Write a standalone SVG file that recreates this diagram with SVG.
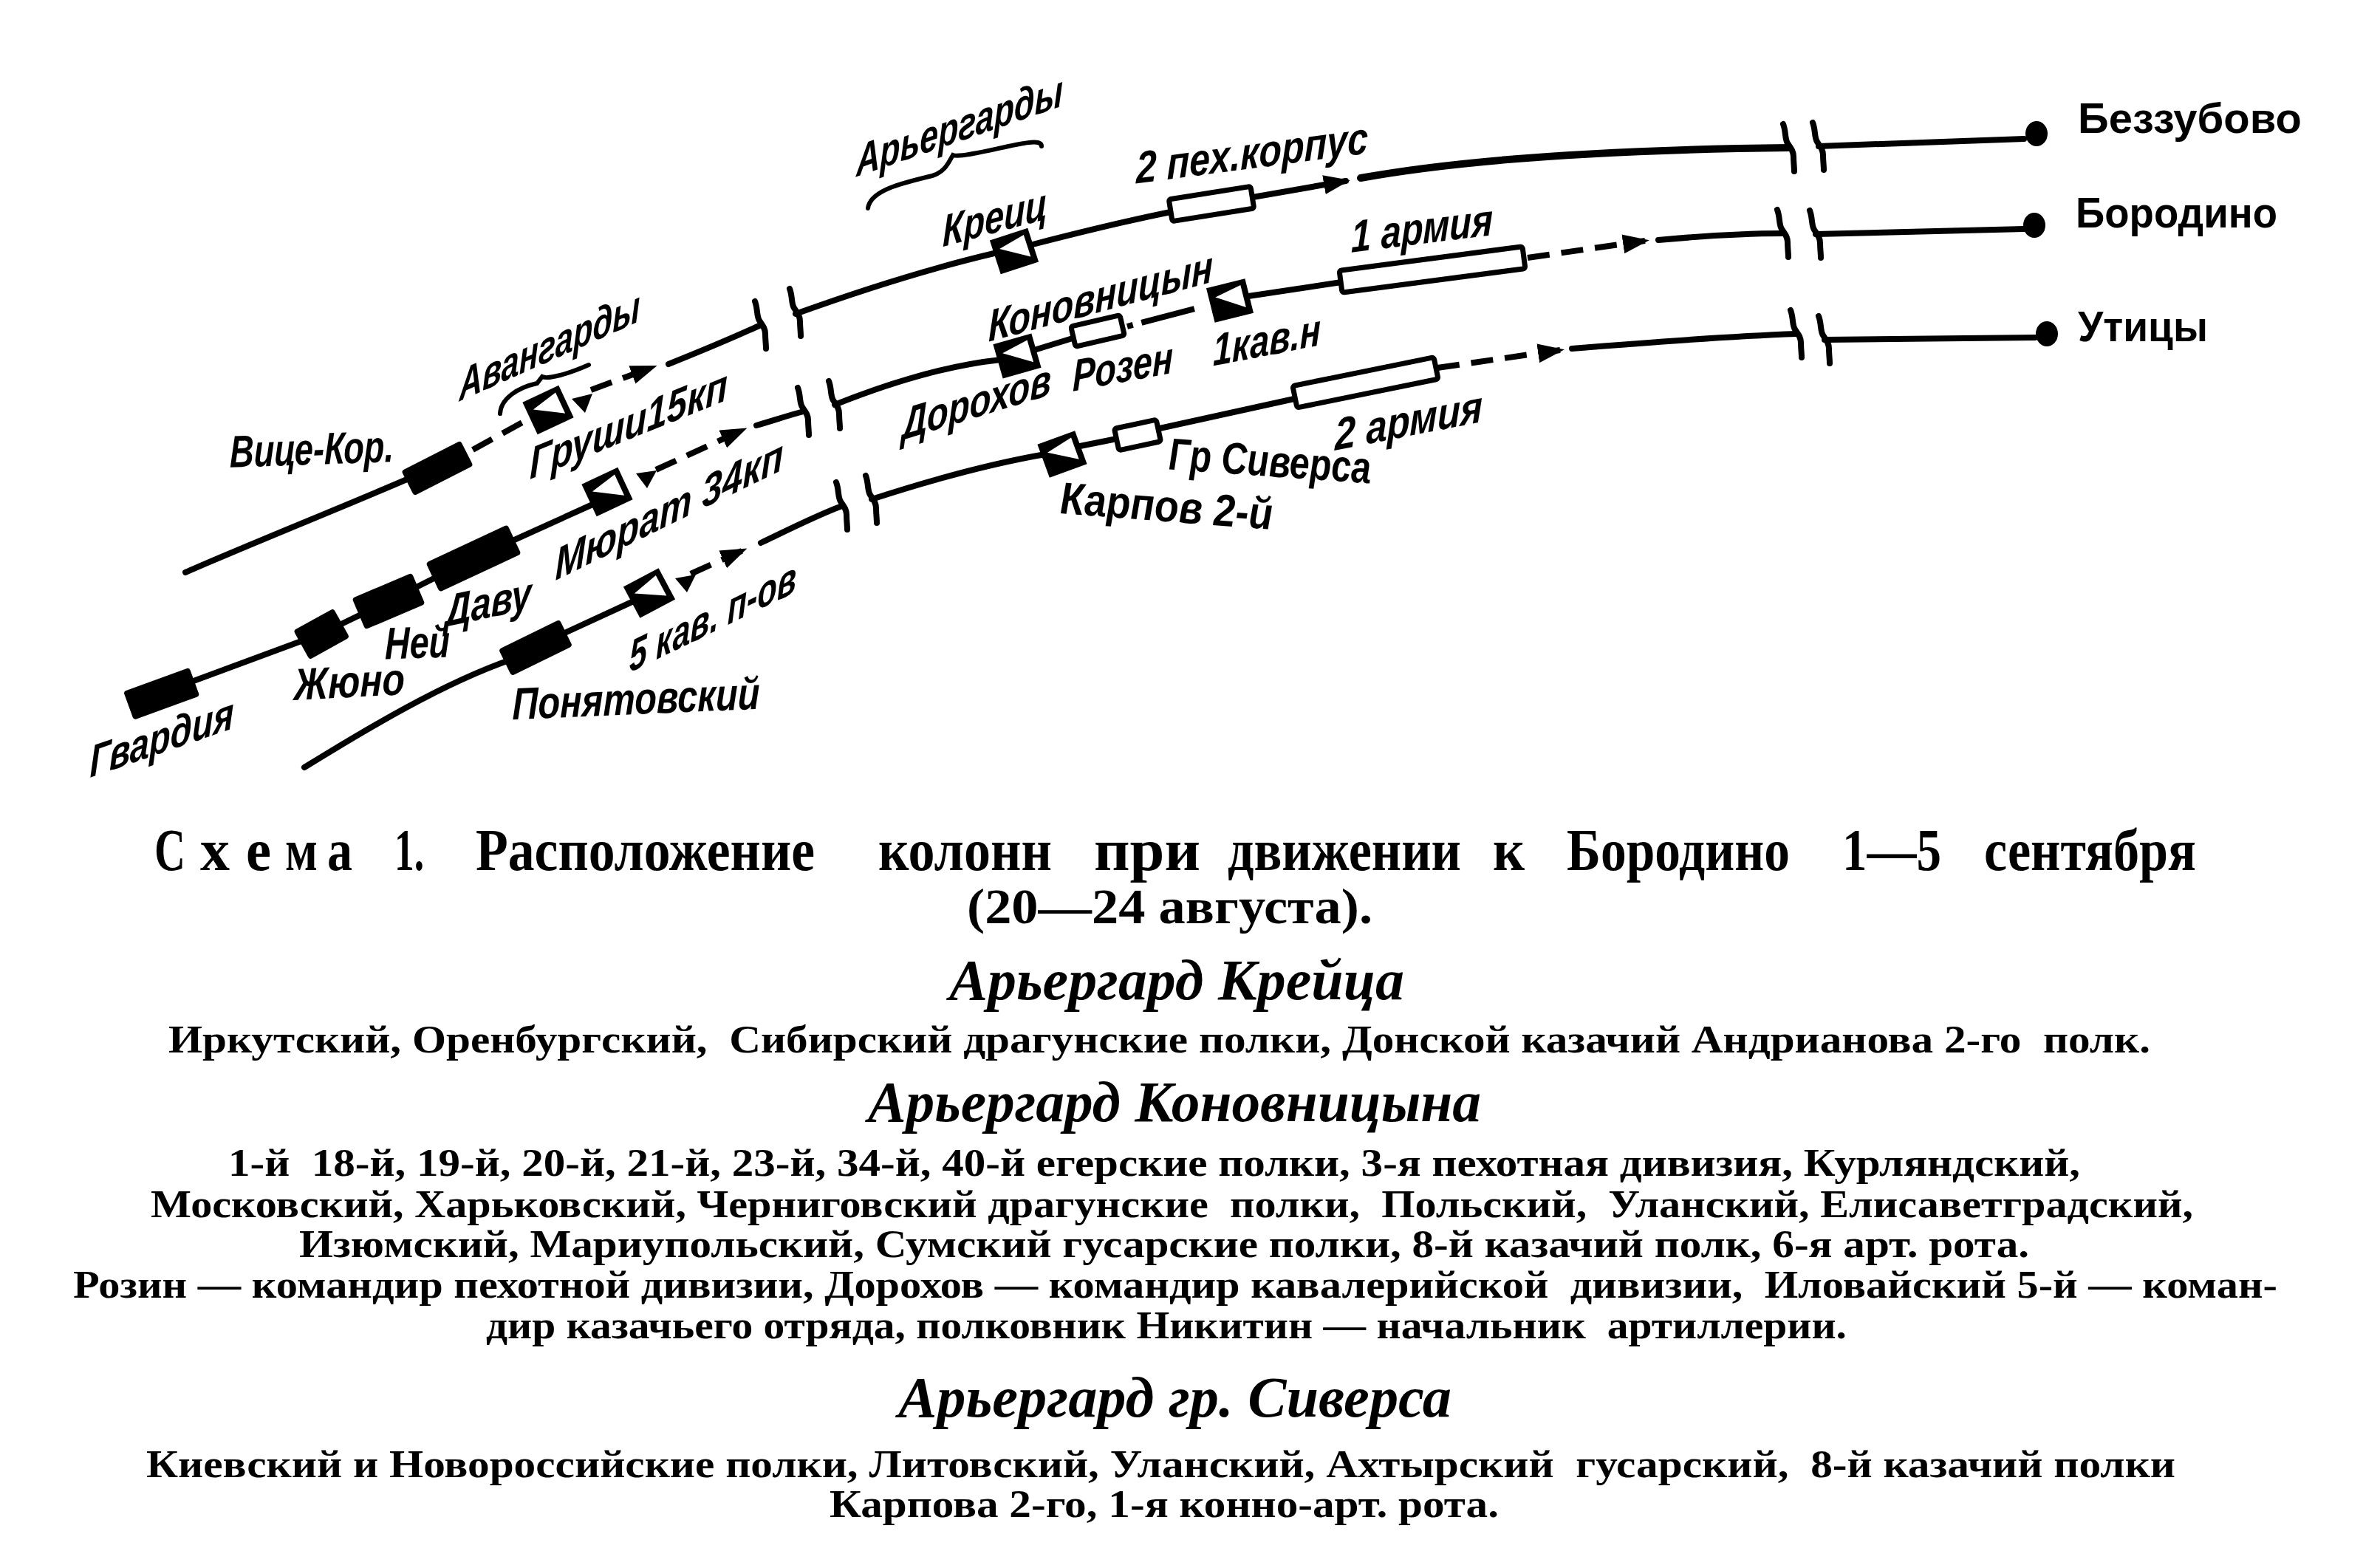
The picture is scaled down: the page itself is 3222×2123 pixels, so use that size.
<svg xmlns="http://www.w3.org/2000/svg" xmlns:xlink="http://www.w3.org/1999/xlink" width="3222" height="2123" viewBox="0 0 3222 2123">
<style>
.ln{fill:none;stroke:#000;stroke-width:8;stroke-linecap:round;stroke-linejoin:round}
.ds{fill:none;stroke:#000;stroke-width:8;stroke-dasharray:30 16}
.br{fill:none;stroke:#000;stroke-width:8;stroke-linecap:round}
.brc{fill:none;stroke:#000;stroke-width:6;stroke-linecap:round}
.blk{fill:#000}
.box{fill:#fff;stroke:#000;stroke-width:7}
.lb{font-family:"Liberation Sans",Arial,sans-serif;font-weight:bold;font-style:italic;font-size:61px;text-anchor:middle;dominant-baseline:central;fill:#000}
.ct{font-family:"Liberation Sans",Arial,sans-serif;font-weight:bold;font-size:58px;fill:#000}
.cap{font-family:"Liberation Serif","Times New Roman",serif;font-weight:bold;font-size:80px;fill:#000}
.cap2{font-family:"Liberation Serif","Times New Roman",serif;font-weight:bold;font-size:68px;fill:#000}
.hd{font-family:"Liberation Serif","Times New Roman",serif;font-weight:bold;font-style:italic;font-size:78px;fill:#000}
.bd{font-family:"Liberation Serif","Times New Roman",serif;font-weight:bold;font-size:52px;fill:#000;white-space:pre}
</style>
<defs>
<marker id="arr" viewBox="0 0 36 26" refX="30" refY="13" markerWidth="36" markerHeight="26" markerUnits="userSpaceOnUse" orient="auto"><path d="M0,0 L36,13 L0,26 z" fill="#000"/></marker>
<g id="sq"><rect x="-24" y="-21" width="48" height="42" fill="#000"/><polygon points="-18,-9 19,-17 19,14" fill="#fff"/><rect x="-24" y="-21" width="48" height="42" fill="none" stroke="#000" stroke-width="6"/></g>
<path id="brk" d="M-8,-32 C-4,-22 -6,-12 -2,-6 C2,0 6,4 6,12 C6,20 7,26 7,32" class="br"/>
</defs>
<rect width="3222" height="2123" fill="#fff"/>

<g id="connectors">
<path class="ln" d="M251,775 C330,740 480,680 560,645"/>
<path class="ds" d="M640,609 L718,566"/>
<path class="ds" d="M800,528 L884,497" marker-end="url(#arr)"/>
<path class="ln" d="M905,493 C950,475 995,456 1030,440"/>
<path class="ln" d="M1077,425 C1160,395 1260,363 1350,342"/>
<path class="ln" d="M1398,331 C1460,315 1520,300 1585,287"/>
<path class="ln" d="M1696,267 L1822,245" marker-end="url(#arr)"/>
<path class="ln" d="M1842,241 C1970,218 2150,203 2422,200" style="stroke-width:10"/>
<path class="ln" d="M2462,198 L2740,188"/>

<path class="ln" d="M262,922 L435,858 L526,814 L641,756 L800,684"/>
<path class="ds" d="M888,636 L1006,582" marker-end="url(#arr)"/>
<path class="ln" d="M1024,576 C1045,570 1065,563 1088,557"/>
<path class="ln" d="M1130,548 C1200,520 1280,495 1355,487"/>
<path class="ln" d="M1400,474 L1452,458"/>
<path class="ln" d="M1526,442 L1640,412" style="stroke-dasharray:8 12 74 40;stroke-linecap:butt"/>
<path class="ln" d="M1690,401 L1816,382"/>
<path class="ds" d="M2068,349 L2227,326" marker-end="url(#arr)"/>
<path class="ln" d="M2245,325 C2310,319 2370,316 2414,316"/>
<path class="ln" d="M2458,317 L2740,310"/>

<path class="ln" d="M412,1039 C500,985 600,925 692,893"/>
<path class="ln" d="M760,859 L862,812"/>
<path class="ds" d="M935,777 L1006,745" marker-end="url(#arr)"/>
<path class="ln" d="M1030,735 C1070,716 1105,698 1140,685"/>
<path class="ln" d="M1180,676 C1260,650 1340,628 1415,615"/>
<path class="ln" d="M1462,604 L1512,594"/>
<path class="ln" d="M1570,580 L1752,540"/>
<path class="ds" d="M1946,498 L2112,474" marker-end="url(#arr)"/>
<path class="ln" d="M2128,472 C2250,462 2350,455 2432,452"/>
<path class="ln" d="M2470,460 L2755,457"/>

<use xlink:href="#brk" transform="translate(1030,440)"/>
<use xlink:href="#brk" transform="translate(1077,423)"/>
<use xlink:href="#brk" transform="translate(2422,200)"/>
<use xlink:href="#brk" transform="translate(2462,198)"/>
<use xlink:href="#brk" transform="translate(1088,557)"/>
<use xlink:href="#brk" transform="translate(1130,548)"/>
<use xlink:href="#brk" transform="translate(2414,316)"/>
<use xlink:href="#brk" transform="translate(2458,317)"/>
<use xlink:href="#brk" transform="translate(1140,685)"/>
<use xlink:href="#brk" transform="translate(1180,676)"/>
<use xlink:href="#brk" transform="translate(2432,452)"/>
<use xlink:href="#brk" transform="translate(2470,460)"/>

<path class="brc" d="M677,560 C678,540 700,525 727,519 L734,510 C742,514 770,506 797,494"/>
<path class="brc" d="M1175,282 C1178,258 1220,248 1262,238 C1280,233 1285,218 1290,210 C1300,214 1345,202 1375,196 C1395,192 1410,190 1410,198"/>
</g>

<g id="avangardy"><text class="lb" transform="translate(744,468) skewY(-24)" textLength="245" lengthAdjust="spacingAndGlyphs">Авангарды</text></g>
<g id="arergardy"><text class="lb" transform="translate(1299,170) skewY(-19)" textLength="280" lengthAdjust="spacingAndGlyphs">Арьергарды</text></g>

<g id="vice-kor">
<rect class="blk" x="-45" y="-19" width="90" height="38" rx="4" transform="translate(592,634) rotate(-27)"/>
<text class="lb" transform="translate(422,608) skewY(-2)" textLength="222" lengthAdjust="spacingAndGlyphs">Вице-Кор.</text>
</g>
<g id="grushi">
<use xlink:href="#sq" transform="translate(742,555) rotate(-25)"/>
<polygon class="blk" points="774,540 802,533 792,559"/>
<text class="lb" transform="translate(851,574) skewY(-22)" textLength="268" lengthAdjust="spacingAndGlyphs">Груши15кп</text>
</g>
<g id="kreic">
<use xlink:href="#sq" transform="translate(1373,340) rotate(-18)"/>
<text class="lb" transform="translate(1347,294) skewY(-15)" textLength="142" lengthAdjust="spacingAndGlyphs">Креиц</text>
</g>
<g id="pekh2">
<rect class="box" x="-56" y="-15" width="112" height="30" rx="3" transform="translate(1640,276) rotate(-9)"/>
<text class="lb" transform="translate(1695,207) skewY(-7.5)" textLength="314" lengthAdjust="spacingAndGlyphs">2 пех.корпус</text>
</g>
<g id="bezzubovo">
<ellipse cx="2757" cy="181" rx="15" ry="17"/>
<text class="ct" x="2813" y="180" textLength="303" lengthAdjust="spacingAndGlyphs">Беззубово</text>
</g>

<g id="gvardia">
<rect class="blk" x="-47" y="-20" width="95" height="41" rx="4" transform="translate(218,939) rotate(-20)"/>
<text class="lb" transform="translate(219,998) skewY(-19)" textLength="195" lengthAdjust="spacingAndGlyphs">Гвардия</text>
</g>
<g id="juno">
<rect class="blk" x="-31" y="-22" width="62" height="45" rx="4" transform="translate(435,858) rotate(-29)"/>
<text class="lb" transform="translate(473,923) skewY(-3)" textLength="150" lengthAdjust="spacingAndGlyphs">Жюно</text>
</g>
<g id="ney">
<rect class="blk" x="-44" y="-23" width="88" height="46" rx="4" transform="translate(526,814) rotate(-23)"/>
<text class="lb" transform="translate(565,870) skewY(-2)" textLength="88" lengthAdjust="spacingAndGlyphs">Ней</text>
</g>
<g id="davu">
<rect class="blk" x="-61" y="-22" width="122" height="44" rx="4" transform="translate(641,756) rotate(-25)"/>
<text class="lb" transform="translate(661,815) skewY(-12)" textLength="117" lengthAdjust="spacingAndGlyphs">Даву</text>
</g>
<g id="murat">
<use xlink:href="#sq" transform="translate(822,666) rotate(-25)"/>
<polygon class="blk" points="861,641 889,637 876,661"/>
<text class="lb" transform="translate(906,690) skewY(-26)" textLength="309" lengthAdjust="spacingAndGlyphs">Мюрат 34кп</text>
</g>
<g id="dorokhov">
<use xlink:href="#sq" transform="translate(1377,482) rotate(-16)"/>
<text class="lb" transform="translate(1322,544) skewY(-17)" textLength="202" lengthAdjust="spacingAndGlyphs">Дорохов</text>
</g>
<g id="konovnicyn"><text class="lb" transform="translate(1490,401) skewY(-15)" textLength="304" lengthAdjust="spacingAndGlyphs">Коновницын</text></g>
<g id="rozen">
<rect class="box" x="-34" y="-14" width="68" height="28" rx="3" transform="translate(1486,448) rotate(-13)"/>
<text class="lb" transform="translate(1520,496) skewY(-10.5)" textLength="136" lengthAdjust="spacingAndGlyphs">Розен</text>
</g>
<g id="kav1">
<use xlink:href="#sq" transform="translate(1665,407) rotate(-14)"/>
<text class="lb" transform="translate(1715,460) skewY(-11)" textLength="146" lengthAdjust="spacingAndGlyphs">1кав.н</text>
</g>
<g id="armia1">
<rect class="box" x="-125" y="-15" width="250" height="30" rx="3" transform="translate(1939,365) rotate(-7.5)"/>
<text class="lb" transform="translate(1925,309) skewY(-7)" textLength="192" lengthAdjust="spacingAndGlyphs">1 армия</text>
</g>
<g id="borodino">
<ellipse cx="2754" cy="305" rx="15" ry="17"/>
<text class="ct" x="2810" y="308" textLength="273" lengthAdjust="spacingAndGlyphs">Бородино</text>
</g>

<g id="poniatowski">
<rect class="blk" x="-46" y="-20" width="92" height="40" rx="4" transform="translate(725,877) rotate(-26)"/>
<text class="lb" transform="translate(861,946) skewY(-2.5)" textLength="335" lengthAdjust="spacingAndGlyphs">Понятовский</text>
</g>
<g id="kav5">
<use xlink:href="#sq" transform="translate(879,803) rotate(-28)"/>
<polygon class="blk" points="914,783 942,778 930,802"/>
<text class="lb" transform="translate(965,835) skewY(-26)" textLength="226" lengthAdjust="spacingAndGlyphs">5 кав. п-ов</text>
</g>
<g id="karpov">
<use xlink:href="#sq" transform="translate(1438,615) rotate(-20)"/>
<text class="lb" transform="translate(1579,685) skewY(4.4)" textLength="288" lengthAdjust="spacingAndGlyphs">Карпов 2-й</text>
</g>
<g id="sivers">
<rect class="box" x="-29" y="-15" width="58" height="30" rx="3" transform="translate(1540,589) rotate(-12)"/>
<text class="lb" transform="translate(1719,624) skewY(4)" textLength="274" lengthAdjust="spacingAndGlyphs">Гр Сиверса</text>
</g>
<g id="armia2">
<rect class="box" x="-97" y="-15" width="195" height="30" rx="3" transform="translate(1848,518) rotate(-11.5)"/>
<text class="lb" transform="translate(1907,569) skewY(-11)" textLength="200" lengthAdjust="spacingAndGlyphs">2 армия</text>
</g>
<g id="utitsy">
<ellipse cx="2771" cy="452" rx="15" ry="17"/>
<text class="ct" x="2813" y="462" textLength="176" lengthAdjust="spacingAndGlyphs">Утицы</text>
</g>

<g id="caption">
<text class="cap" x="209" y="1178" textLength="42" lengthAdjust="spacingAndGlyphs">С</text>
<text class="cap" x="271" y="1178" textLength="40" lengthAdjust="spacingAndGlyphs">х</text>
<text class="cap" x="333" y="1178" textLength="34" lengthAdjust="spacingAndGlyphs">е</text>
<text class="cap" x="386" y="1178" textLength="44" lengthAdjust="spacingAndGlyphs">м</text>
<text class="cap" x="443" y="1178" textLength="34" lengthAdjust="spacingAndGlyphs">а</text>
<text class="cap" x="534" y="1178" textLength="40" lengthAdjust="spacingAndGlyphs">1.</text>
<text class="cap" x="644" y="1178" textLength="459" lengthAdjust="spacingAndGlyphs">Расположение</text>
<text class="cap" x="1189" y="1178" textLength="235" lengthAdjust="spacingAndGlyphs">колонн</text>
<text class="cap" x="1481" y="1178" textLength="144" lengthAdjust="spacingAndGlyphs">при</text>
<text class="cap" x="1662" y="1178" textLength="316" lengthAdjust="spacingAndGlyphs">движении</text>
<text class="cap" x="2021" y="1178" textLength="43" lengthAdjust="spacingAndGlyphs">к</text>
<text class="cap" x="2121" y="1178" textLength="302" lengthAdjust="spacingAndGlyphs">Бородино</text>
<text class="cap" x="2494" y="1178" textLength="134" lengthAdjust="spacingAndGlyphs">1—5</text>
<text class="cap" x="2686" y="1178" textLength="287" lengthAdjust="spacingAndGlyphs">сентября</text>
<text class="cap2" x="1309" y="1250" textLength="549" lengthAdjust="spacingAndGlyphs">(20—24 августа).</text>
</g>

<g id="legend">
<text class="hd" x="1285" y="1353" textLength="616" lengthAdjust="spacingAndGlyphs">Арьергард Крейца</text>
<text class="bd" x="228" y="1425" textLength="2683" lengthAdjust="spacingAndGlyphs">Иркутский, Оренбургский,  Сибирский драгунские полки, Донской казачий Андрианова 2-го  полк.</text>
<text class="hd" x="1175" y="1518" textLength="830" lengthAdjust="spacingAndGlyphs">Арьергард Коновницына</text>
<text class="bd" x="309" y="1592" textLength="2507" lengthAdjust="spacingAndGlyphs">1-й  18-й, 19-й, 20-й, 21-й, 23-й, 34-й, 40-й егерские полки, 3-я пехотная дивизия, Курляндский,</text>
<text class="bd" x="204" y="1648" textLength="2765" lengthAdjust="spacingAndGlyphs">Московский, Харьковский, Черниговский драгунские  полки,  Польский,  Уланский, Елисаветградский,</text>
<text class="bd" x="405" y="1702" textLength="2342" lengthAdjust="spacingAndGlyphs">Изюмский, Мариупольский, Сумский гусарские полки, 8-й казачий полк, 6-я арт. рота.</text>
<text class="bd" x="99" y="1757" textLength="2984" lengthAdjust="spacingAndGlyphs">Розин — командир пехотной дивизии, Дорохов — командир кавалерийской  дивизии,  Иловайский 5-й — коман-</text>
<text class="bd" x="658" y="1812" textLength="1842" lengthAdjust="spacingAndGlyphs">дир казачьего отряда, полковник Никитин — начальник  артиллерии.</text>
<text class="hd" x="1216" y="1918" textLength="749" lengthAdjust="spacingAndGlyphs">Арьергард гр. Сиверса</text>
<text class="bd" x="198" y="2000" textLength="2747" lengthAdjust="spacingAndGlyphs">Киевский и Новороссийские полки, Литовский, Уланский, Ахтырский  гусарский,  8-й казачий полки</text>
<text class="bd" x="1123" y="2054" textLength="906" lengthAdjust="spacingAndGlyphs">Карпова 2-го, 1-я конно-арт. рота.</text>
</g>
</svg>
